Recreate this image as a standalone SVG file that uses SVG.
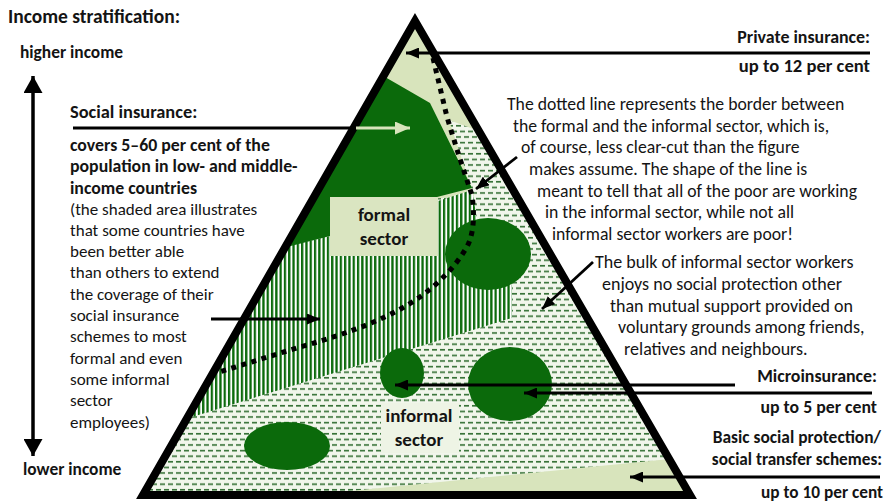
<svg xmlns="http://www.w3.org/2000/svg" width="886" height="502" viewBox="0 0 886 502">
<style>
  text { font-family: Carlito, Lato, "Liberation Sans", sans-serif; fill: #141414; font-size: 17px; }
  .b { font-weight: bold; }
  .r { text-anchor: end; }
  .m { text-anchor: middle; }
  .line { stroke: #000; stroke-width: 2.8; fill: none; }
  .note1 { font-size: 17.7px; }
  .note2 { font-size: 18px; }
  .lbl { font-size: 19px; font-weight: bold; text-anchor: middle; }
</style>
<defs>
  <pattern id="dash" patternUnits="userSpaceOnUse" width="8" height="11.2">
    <rect width="8" height="11.2" fill="#f1f6eb"/>
    <rect x="0" y="1.8" width="5" height="1.6" fill="#336f33"/>
    <rect x="4" y="7.4" width="5" height="1.6" fill="#336f33"/>
    <rect x="-4" y="7.4" width="5" height="1.6" fill="#336f33"/>
  </pattern>
  <pattern id="hatch" patternUnits="userSpaceOnUse" width="4.3" height="10">
    <rect width="4.3" height="10" fill="#ffffff"/>
    <rect x="0" width="2.3" height="10" fill="#0b6a0b"/>
  </pattern>
  <clipPath id="tri">
    <polygon points="415,21 143,495 690,495"/>
  </clipPath>
  <marker id="ah" markerUnits="userSpaceOnUse" markerWidth="13" markerHeight="11" refX="13" refY="5.5" orient="auto">
    <path d="M0,0 L13,5.5 L0,11 z" fill="#000"/>
  </marker>
  <marker id="ahL" markerUnits="userSpaceOnUse" markerWidth="15" markerHeight="13" refX="15" refY="6.5" orient="auto">
    <path d="M0,0 L15,6.5 L0,13 z" fill="#d8e4bc"/>
  </marker>
  <marker id="ahBig" markerUnits="userSpaceOnUse" markerWidth="18" markerHeight="19" refX="17" refY="9.5" orient="auto-start-reverse">
    <path d="M0,0 L17,9.5 L0,19 z" fill="#000"/>
  </marker>
</defs>

<g id="pyramid">
  <g clip-path="url(#tri)">
    <rect x="100" y="0" width="650" height="502" fill="url(#dash)"/>
    <polygon id="basic-strip" points="300,496 700,456 700,502 300,502" fill="#d8e4bc"/>
    <polygon id="private-top" points="330,0 530,0 530,150 449,120 474,196 410,200 330,60" fill="#d8e4bc"/>
    <polygon id="hatched" points="250,255 330,236 472,190 478,225 512,285 512,318 150,430" fill="url(#hatch)"/>
    <polygon id="social-green" points="340,51 430,103 472,188 437,197 437,238 330,236 260,254 200,256 200,40" fill="#0b6a0b"/>
    <rect id="informal-bg" x="381" y="403" width="78" height="50" fill="#eef4e5"/>
    <ellipse cx="488" cy="254" rx="43" ry="36" fill="#0b6a0b"/>
    <ellipse cx="402" cy="373" rx="22" ry="25" fill="#0b6a0b"/>
    <ellipse cx="510" cy="384" rx="42" ry="37" fill="#0b6a0b"/>
    <ellipse cx="287" cy="446" rx="43" ry="24" fill="#0b6a0b"/>
  </g>
  <g id="formal-sector">
    <rect x="330" y="197" width="108" height="59" fill="#dae5c1"/>
    <text class="lbl" x="384" y="221">formal</text>
    <text class="lbl" x="384" y="245">sector</text>
  </g>
  <g id="informal-sector">
    <text class="lbl" x="419" y="422">informal</text>
    <text class="lbl" x="419" y="446">sector</text>
  </g>
  <path id="border-line" d="M433,58 L447,117 Q460,160 472,195 Q477,232 465,250 Q450,275 420,297 Q380,325 300,347 L216,373" fill="none" stroke="#000" stroke-width="5" stroke-dasharray="5 5.5"/>
  <polygon points="415,21 143,495 690,495" fill="none" stroke="#000" stroke-width="8" stroke-linejoin="miter"/>
</g>

<g id="connectors">
  <line x1="33" y1="76" x2="33" y2="456" stroke="#000" stroke-width="3.5" marker-start="url(#ahBig)" marker-end="url(#ahBig)"/>
  <line class="line" x1="73" y1="128" x2="356" y2="128"/>
  <line x1="356" y1="128" x2="410" y2="128" stroke="#d8e4bc" stroke-width="3" marker-end="url(#ahL)"/>
  <line class="line" x1="211" y1="319" x2="320" y2="319" marker-end="url(#ah)"/>
  <line class="line" x1="870" y1="53" x2="406" y2="53" marker-end="url(#ah)"/>
  <line class="line" x1="517" y1="157" x2="476" y2="189" marker-end="url(#ah)"/>
  <line class="line" x1="593" y1="262" x2="542" y2="309" marker-end="url(#ah)"/>
  <line class="line" x1="735" y1="385" x2="395" y2="385" marker-end="url(#ah)"/>
  <line class="line" x1="872" y1="393" x2="524" y2="393" marker-end="url(#ah)"/>
  <line class="line" x1="880" y1="477" x2="630" y2="477" marker-end="url(#ah)"/>
</g>

<g id="income-axis">
  <text class="b" x="8" y="23" style="font-size:19.5px">Income stratification:</text>
  <text class="b" x="20" y="58" style="font-size:17.4px">higher income</text>
  <text class="b" x="23" y="475" style="font-size:17.4px">lower income</text>
</g>

<g id="social-insurance">
  <text class="b" x="70" y="118" style="font-size:18.4px">Social insurance:</text>
  <text class="b" x="70" y="151" style="font-size:17.8px">covers 5–60 per cent of the</text>
  <text class="b" x="70" y="172" style="font-size:17.8px">population in low- and middle-</text>
  <text class="b" x="70" y="194" style="font-size:17.8px">income countries</text>
  <text x="70" y="215">(the shaded area illustrates</text>
  <text x="70" y="236">that some countries have</text>
  <text x="70" y="257">been better able</text>
  <text x="70" y="278">than others to extend</text>
  <text x="70" y="300">the coverage of their</text>
  <text x="70" y="321">social insurance</text>
  <text x="70" y="342">schemes to most</text>
  <text x="70" y="364">formal and even</text>
  <text x="70" y="385">some informal</text>
  <text x="70" y="406">sector</text>
  <text x="70" y="428">employees)</text>
</g>

<g id="private-insurance">
  <text class="b r" x="870" y="43" style="font-size:17.9px">Private insurance:</text>
  <text class="b r" x="870" y="72" style="font-size:18.6px">up to 12 per cent</text>
</g>

<g id="dotted-note">
  <text class="note1" x="507" y="110">The dotted line represents the border between</text>
  <text class="note1" x="513" y="132">the formal and the informal sector, which is,</text>
  <text class="note1" x="521" y="153">of course, less clear-cut than the figure</text>
  <text class="note1" x="529" y="175">makes assume. The shape of the line is</text>
  <text class="note1" x="537" y="197">meant to tell that all of the poor are working</text>
  <text class="note1" x="545" y="218">in the informal sector, while not all</text>
  <text class="note1" x="552" y="240">informal sector workers are poor!</text>
</g>

<g id="bulk-note">
  <text class="note2" x="595" y="268">The bulk of informal sector workers</text>
  <text class="note2" x="602" y="290">enjoys no social protection other</text>
  <text class="note2" x="610" y="312">than mutual support provided on</text>
  <text class="note2" x="618" y="333">voluntary grounds among friends,</text>
  <text class="note2" x="624" y="355">relatives and neighbours.</text>
</g>

<g id="microinsurance">
  <text class="b r" x="877" y="382" style="font-size:17.9px">Microinsurance:</text>
  <text class="b r" x="877" y="413" style="font-size:17.8px">up to 5 per cent</text>
</g>

<g id="basic-social">
  <text class="b r" x="881" y="443" style="font-size:17.4px">Basic social protection/</text>
  <text class="b r" x="882" y="465" style="font-size:17.2px">social transfer schemes:</text>
  <text class="b r" x="883" y="498" style="font-size:17.3px">up to 10 per cent</text>
</g>
</svg>
